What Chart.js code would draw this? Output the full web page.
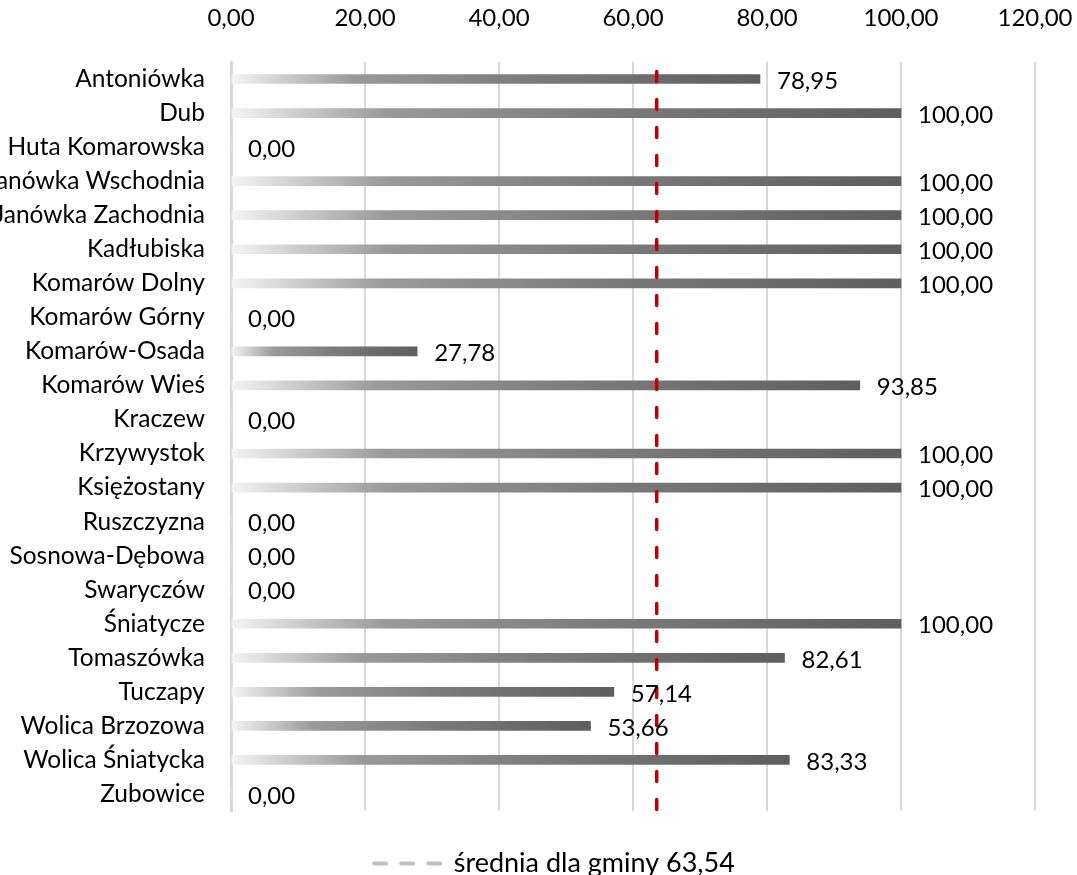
<!DOCTYPE html>
<html>
<head>
<meta charset="utf-8">
<script src="https://cdn.jsdelivr.net/npm/chart.js@4.4.1/dist/chart.umd.min.js"></script>
<style>
  html, body { margin: 0; padding: 0; background: #ffffff; overflow: hidden; }
  #wrap { position: relative; width: 1077px; height: 875px; }
  canvas { display: block; }
</style>
</head>
<body>
<div id="wrap"><canvas id="c" width="1077" height="875"></canvas></div>
<script>
const categories = [
  'Antoniówka', 'Dub', 'Huta Komarowska', 'Janówka Wschodnia', 'Janówka Zachodnia',
  'Kadłubiska', 'Komarów Dolny', 'Komarów Górny', 'Komarów-Osada', 'Komarów Wieś',
  'Kraczew', 'Krzywystok', 'Księżostany', 'Ruszczyzna', 'Sosnowa-Dębowa',
  'Swaryczów', 'Śniatycze', 'Tomaszówka', 'Tuczapy', 'Wolica Brzozowa',
  'Wolica Śniatycka', 'Zubowice'
];
const values = [
  78.95, 100, 0, 100, 100,
  100, 100, 0, 27.78, 93.85,
  0, 100, 100, 0, 0,
  0, 100, 82.61, 57.14, 53.66,
  83.33, 0
];
const averageValue = 63.54;
const averageLabel = 'średnia dla gminy 63,54';
const xMin = 0, xMax = 120, xStep = 20;

const FONT = 'Lato, "Open Sans", sans-serif';
const FSIZE = 24;
const fmt = v => Number(v).toFixed(2).replace('.', ',');

function barGradient(ctx) {
  const chart = ctx.chart;
  const xs = chart.scales.x;
  if (!xs || !chart.chartArea) return '#888888';
  const v = ctx.raw;
  const x0 = xs.getPixelForValue(0);
  const x1 = xs.getPixelForValue(v);
  if (!isFinite(x1) || x1 - x0 < 1) return '#f2f2f2';
  const g = chart.ctx.createLinearGradient(x0, 0, x1, 0);
  g.addColorStop(0, '#f4f4f4');
  g.addColorStop(0.23, '#9a9a9a');
  g.addColorStop(0.4, '#8a8a8a');
  g.addColorStop(0.55, '#7c7c7c');
  g.addColorStop(1, '#5e5e5e');
  return g;
}

const overlayPlugin = {
  id: 'overlay',
  afterLayout(chart) {
    const lg = chart.legend;
    if (lg) { lg.left += 37; lg.right += 37; lg.top += 12; lg.bottom += 12; }
  },
  afterDatasetsDraw(chart) {
    const c = chart.ctx;
    const xs = chart.scales.x;
    const area = chart.chartArea;
    const meta = chart.getDatasetMeta(0);
    const ax = xs.getPixelForValue(averageValue);
    c.save();
    c.strokeStyle = '#c00000';
    c.lineWidth = 3.5;
    c.lineCap = 'round';
    c.setLineDash([10, 18]);
    c.lineDashOffset = 18.5;
    c.beginPath();
    c.moveTo(ax, area.top);
    c.lineTo(ax, area.bottom);
    c.stroke();
    c.restore();
    c.save();
    c.font = FSIZE + 'px ' + FONT;
    c.fillStyle = '#000000';
    c.textAlign = 'left';
    c.textBaseline = 'middle';
    meta.data.forEach((el, i) => {
      c.fillText(fmt(values[i]), el.x + 17, el.y + 2);
    });
    c.restore();
  }
};

new Chart(document.getElementById('c'), {
  type: 'bar',
  data: {
    labels: categories,
    datasets: [{
      label: 'wartość',
      data: values,
      backgroundColor: barGradient,
      borderWidth: 0,
      barThickness: 9
    }]
  },
  options: {
    indexAxis: 'y',
    responsive: false,
    animation: false,
    devicePixelRatio: 1,
    layout: { padding: { left: 0, right: 42, top: 6, bottom: 0 } },
    scales: {
      x: {
        position: 'top',
        min: xMin, max: xMax,
        ticks: {
          stepSize: xStep,
          callback: v => fmt(v),
          font: { family: FONT, size: FSIZE },
          color: '#000000',
          padding: 29,
          maxRotation: 0
        },
        grid: { color: '#d9d9d9', lineWidth: 2, drawTicks: false },
        border: { display: false },
        afterFit(scale) {
          scale.height = 56;
          scale.paddingLeft = 0;
          scale.paddingRight = 0;
        }
      },
      y: {
        ticks: {
          font: { family: FONT, size: 24.5 },
          color: '#000000',
          padding: 26,
          autoSkip: false
        },
        grid: { display: false, drawTicks: false },
        border: { display: true, color: '#d9d9d9', width: 3 },
        afterFit(scale) { scale.width = 231; }
      }
    },
    plugins: {
      tooltip: { enabled: false },
      legend: {
        display: true,
        position: 'bottom',
        labels: {
          font: { family: FONT, size: 27 },
          color: '#000000',
          usePointStyle: true,
          pointStyleWidth: 66,
          padding: 27,
          generateLabels: () => [{
            text: averageLabel,
            pointStyle: 'line',
            strokeStyle: '#bfbfbf',
            fillStyle: '#bfbfbf',
            lineWidth: 4,
            lineDash: [12, 15],
            lineCap: 'round',
            hidden: false,
            datasetIndex: 1
          }]
        }
      }
    }
  },
  plugins: [overlayPlugin]
});
</script>
</body>
</html>
